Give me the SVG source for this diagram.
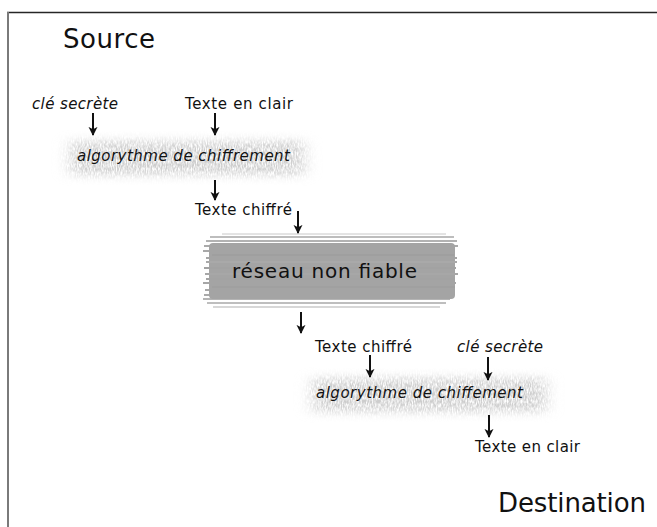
<svg xmlns="http://www.w3.org/2000/svg" width="657" height="527" viewBox="0 0 657 527">
<defs>
<style>
text{font-family:"DejaVu Sans","Liberation Sans",sans-serif;fill:#111}
.big{font-size:26px}
.sm{font-size:15px}
.it{font-style:italic}
.conn line{stroke:#111;stroke-width:2}
.streak{stroke-width:2;fill:none}
</style>
<marker id="ah" viewBox="0 0 10 10" refX="9" refY="5" markerWidth="9" markerHeight="10" orient="auto" markerUnits="userSpaceOnUse">
<path d="M0,0 L10,5 L0,10 L2.5,5 z" fill="#111"/>
</marker>
<filter id="speck" x="-15%" y="-40%" width="130%" height="180%">
<feGaussianBlur in="SourceGraphic" stdDeviation="8 5" result="b"/>
<feTurbulence type="fractalNoise" baseFrequency="0.8 0.25" numOctaves="2" seed="7" result="n"/>
<feColorMatrix in="n" type="matrix" values="0 0 0 0 0 0 0 0 0 0 0 0 0 0 0 0 0 0 2.2 -0.5" result="na"/>
<feComposite in="b" in2="na" operator="in"/>
</filter>
</defs>
<rect width="657" height="527" fill="#fff"/>
<line x1="7" y1="12.5" x2="657" y2="12.5" stroke="#262626" stroke-width="1.6"/>
<line x1="8" y1="12" x2="8" y2="527" stroke="#7a7a7a" stroke-width="2"/>

<g id="source"><text class="big" x="63" y="48" textLength="92">Source</text></g>
<g id="key1"><text class="sm it" x="32" y="109" textLength="86">clé secrète</text></g>
<g id="plain1"><text class="sm" x="185" y="109" textLength="108">Texte en clair</text></g>
<g id="algo1">
<rect x="70" y="141" width="234" height="34" fill="#cdcdcd" filter="url(#speck)"/>
<text class="sm it" x="77" y="161" textLength="213">algorythme de chiffrement</text>
</g>
<g id="cipher1"><text class="sm" x="195" y="215" textLength="97">Texte chiffré</text></g>
<g id="network">
<g class="streak">
<line x1="222" y1="234" x2="446" y2="234" stroke="#c8c8c8" stroke-width="1"/>
<line x1="210" y1="237" x2="454" y2="237" stroke="#bdbdbd"/>
<line x1="206" y1="241" x2="457" y2="241" stroke="#b2b2b2"/>
<line x1="204" y1="246" x2="458" y2="246" stroke="#aaaaaa"/>
<line x1="203" y1="251" x2="455" y2="251" stroke="#a8a8a8"/>
<line x1="206" y1="258" x2="457" y2="258" stroke="#a6a6a6"/>
<line x1="203" y1="283" x2="456" y2="283" stroke="#a6a6a6"/>
<line x1="205" y1="290" x2="454" y2="290" stroke="#a8a8a8"/>
<line x1="204" y1="295" x2="452" y2="295" stroke="#aaaaaa"/>
<line x1="203" y1="299" x2="450" y2="299" stroke="#b4b4b4"/>
<line x1="207" y1="303" x2="446" y2="303" stroke="#bebebe"/>
<line x1="213" y1="307" x2="440" y2="307" stroke="#cacaca" stroke-width="1.5"/>
</g>
<rect x="209" y="243" width="246" height="56" rx="4" fill="#a4a4a4"/>
<g class="streak" stroke-width="1">
<line x1="206" y1="262" x2="457" y2="262" stroke="#a9a9a9" stroke-width="2"/>
<line x1="204" y1="268" x2="456" y2="268" stroke="#a2a2a2" stroke-width="2"/>
<line x1="205" y1="274" x2="458" y2="274" stroke="#a7a7a7" stroke-width="2"/>
<line x1="206" y1="279" x2="455" y2="279" stroke="#a3a3a3" stroke-width="2"/>
<line x1="212" y1="255" x2="454" y2="255" stroke="#9f9f9f"/>
<line x1="212" y1="287" x2="455" y2="287" stroke="#a0a0a0"/>
</g>
<text x="232" y="278" font-size="20" textLength="185">réseau non fiable</text>
</g>
<g id="cipher2"><text class="sm" x="315" y="352" textLength="97">Texte chiffré</text></g>
<g id="key2"><text class="sm it" x="457" y="352" textLength="86">clé secrète</text></g>
<g id="algo2">
<rect x="312" y="378" width="234" height="34" fill="#cdcdcd" filter="url(#speck)"/>
<text class="sm it" x="316" y="398" textLength="207">algorythme de chiffement</text>
</g>
<g id="plain2"><text class="sm" x="475" y="452" textLength="105">Texte en clair</text></g>
<g id="destination"><text class="big" x="498" y="512" textLength="148">Destination</text></g>

<g id="connectors" class="conn">
<line x1="93" y1="113" x2="93" y2="135" marker-end="url(#ah)"/>
<line x1="215" y1="113" x2="215" y2="135" marker-end="url(#ah)"/>
<line x1="215" y1="180" x2="215" y2="200" marker-end="url(#ah)"/>
<line x1="298" y1="211" x2="298" y2="233" marker-end="url(#ah)"/>
<line x1="301" y1="312" x2="301" y2="333" marker-end="url(#ah)"/>
<line x1="370" y1="355" x2="370" y2="377" marker-end="url(#ah)"/>
<line x1="488" y1="357" x2="488" y2="380" marker-end="url(#ah)"/>
<line x1="489" y1="415" x2="489" y2="437" marker-end="url(#ah)"/>
</g>
</svg>
